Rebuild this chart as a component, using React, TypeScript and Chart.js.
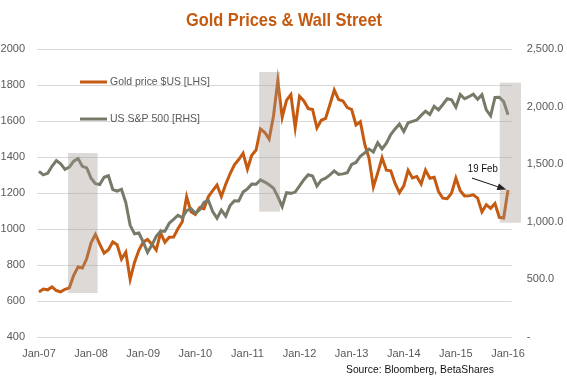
import React, { useEffect, useRef } from "react";
import { Chart, registerables } from "chart.js";

Chart.register(...registerables);

// Month-end observations, Jan-07 .. Dec-15, then 19 Feb 2016
const MONTHS: string[] = (() => {
  const out: string[] = [];
  const m = ["Jan", "Feb", "Mar", "Apr", "May", "Jun", "Jul", "Aug", "Sep", "Oct", "Nov", "Dec"];
  for (let y = 7; y <= 15; y++) for (const mm of m) out.push(`${mm}-${String(y).padStart(2, "0")}`);
  out.push("19-Feb-16");
  return out;
})();

const GOLD: number[] = [
  650, 666, 662, 678, 658, 651, 665, 673, 743, 789, 783, 836,
  923, 970, 916, 866, 885, 928, 913, 833, 871, 720, 814, 882,
  927, 942, 916, 883, 979, 926, 954, 955, 1001, 1040, 1180, 1096,
  1081, 1118, 1113, 1179, 1213, 1244, 1181, 1248, 1307, 1357, 1386, 1421,
  1333, 1410, 1439, 1556, 1536, 1500, 1628, 1824, 1620, 1715, 1747, 1564,
  1737, 1711, 1669, 1664, 1561, 1604, 1614, 1692, 1772, 1719, 1711, 1675,
  1664, 1578, 1596, 1472, 1393, 1234, 1312, 1396, 1327, 1323, 1253, 1202,
  1240, 1326, 1284, 1292, 1250, 1327, 1282, 1287, 1208, 1171, 1168, 1199,
  1283, 1213, 1183, 1184, 1190, 1172, 1095, 1135, 1115, 1142, 1065, 1061,
  1217,
];

const SP500: number[] = [
  1438, 1407, 1421, 1482, 1531, 1503, 1455, 1474, 1527, 1549, 1481, 1468,
  1379, 1331, 1323, 1386, 1400, 1280, 1267, 1283, 1166, 969, 896, 903,
  826, 735, 798, 873, 919, 919, 988, 1021, 1057, 1036, 1096, 1115,
  1074, 1104, 1169, 1187, 1089, 1031, 1102, 1049, 1141, 1183, 1181, 1258,
  1286, 1327, 1326, 1364, 1345, 1321, 1292, 1219, 1131, 1253, 1247, 1258,
  1312, 1366, 1408, 1398, 1310, 1362, 1379, 1407, 1441, 1412, 1416, 1426,
  1498, 1515, 1569, 1598, 1631, 1606, 1686, 1633, 1682, 1757, 1806, 1848,
  1783, 1860, 1872, 1884, 1924, 1960, 1931, 2003, 1972, 2018, 2068, 2059,
  1995, 2105, 2068, 2086, 2107, 2063, 2104, 1972, 1920, 2079, 2080, 2044,
  1930,
];

const X_TICK_LABELS = ["Jan-07", "Jan-08", "Jan-09", "Jan-10", "Jan-11", "Jan-12", "Jan-13", "Jan-14", "Jan-15", "Jan-16"];
const X_TICK_INDEX = [0, 12, 24, 36, 48, 60, 72, 84, 96, 108];

// Highlighted periods (month index range, gold-axis value range)
const SHADE_FROM = [6.7, 50.7, 106.1];
const SHADE_TO = [13.5, 55.5, 111.0];
const SHADE_LOW = [644, 1096, 1035];
const SHADE_HIGH = [1422, 1872, 1813];

const ANNOT_TEXT = "19 Feb";

const TITLE = "Gold Prices & Wall Street";
const SOURCE = "Source: Bloomberg, BetaShares";
const GOLD_LABEL = "Gold price $US [LHS]";
const SP_LABEL = "US S&P 500 [RHS]";

const ORANGE = "#C55A11";
const GREY = "#767B69";
const TEXT = "#595959";
const FONT = "'Liberation Sans', Arial, sans-serif";

// draw text squeezed horizontally to a target width (the original uses a narrow face)
function narrowText(ctx: any, text: string, x: number, y: number, font: string, width: number, align: string) {
  ctx.save();
  ctx.font = font;
  const w = ctx.measureText(text).width;
  const s = width / w;
  ctx.translate(x, y);
  ctx.scale(s, 1);
  ctx.textAlign = align;
  ctx.textBaseline = "middle";
  ctx.fillText(text, 0, 0);
  ctx.restore();
}

const overlay = {
  id: "overlay",
  afterDatasetsDraw(chart: any) {
    const { ctx } = chart;
    const x = chart.scales.x;
    const y = chart.scales.y;
    ctx.save();
    ctx.fillStyle = "rgba(160,150,143,0.36)";
    for (let i = 0; i < SHADE_FROM.length; i++) {
      const x0 = x.getPixelForValue(SHADE_FROM[i]);
      const x1 = x.getPixelForValue(SHADE_TO[i]);
      const y0 = y.getPixelForValue(SHADE_HIGH[i]);
      const y1 = y.getPixelForValue(SHADE_LOW[i]);
      ctx.fillRect(x0, y0, x1 - x0, y1 - y0);
    }
    // annotation arrow to last gold point
    const last = GOLD.length - 1;
    const ex = x.getPixelForValue(last - 0.4);
    const ey = y.getPixelForValue(GOLD[last] + 2);
    const sx = x.getPixelForValue(last - 8.3);
    const sy = y.getPixelForValue(GOLD[last] + 66);
    ctx.strokeStyle = "#111";
    ctx.lineWidth = 1;
    const ang = Math.atan2(ey - sy, ex - sx);
    const hl = 9;
    const bx = ex - hl * Math.cos(ang);
    const by = ey - hl * Math.sin(ang);
    ctx.beginPath();
    ctx.moveTo(sx, sy);
    ctx.lineTo(bx, by);
    ctx.stroke();
    ctx.fillStyle = "#222";
    ctx.beginPath();
    ctx.moveTo(ex, ey);
    ctx.lineTo(bx + 3.5 * Math.sin(ang), by - 3.5 * Math.cos(ang));
    ctx.lineTo(bx - 3.5 * Math.sin(ang), by + 3.5 * Math.cos(ang));
    ctx.closePath();
    ctx.fill();
    ctx.fillStyle = "#111";
    narrowText(ctx, ANNOT_TEXT, x.getPixelForValue(last - 5.8), y.getPixelForValue(GOLD[last] + 116), `11.5px ${FONT}`, 30, "center");
    ctx.restore();
  },
  afterDraw(chart: any) {
    const { ctx, chartArea } = chart;
    ctx.save();
    ctx.fillStyle = ORANGE;
    narrowText(ctx, TITLE, 284, 21, `bold 19px ${FONT}`, 196, "center");
    const items = [
      { label: GOLD_LABEL, color: ORANGE, yy: 82, w: 100 },
      { label: SP_LABEL, color: GREY, yy: 119, w: 90 },
    ];
    for (const it of items) {
      ctx.strokeStyle = it.color;
      ctx.lineWidth = 3;
      ctx.beginPath();
      ctx.moveTo(chartArea.left + 43, it.yy);
      ctx.lineTo(chartArea.left + 70, it.yy);
      ctx.stroke();
      ctx.fillStyle = TEXT;
      narrowText(ctx, it.label, chartArea.left + 73, it.yy, `11.5px ${FONT}`, it.w, "left");
    }
    ctx.fillStyle = "#111";
    narrowText(ctx, SOURCE, 494, 370, `11.5px ${FONT}`, 148, "right");
    ctx.restore();
  },
};

export default function App() {
  const ref = useRef<HTMLCanvasElement>(null);
  useEffect(() => {
    if (!ref.current) return;
    const chart = new Chart(ref.current, {
      type: "line",
      data: {
        datasets: [
          {
            label: GOLD_LABEL,
            data: GOLD.map((v, i) => ({ x: i, y: v })),
            borderColor: ORANGE,
            borderWidth: 3,
            pointRadius: 0,
            tension: 0,
            yAxisID: "y",
            order: 2,
          },
          {
            label: SP_LABEL,
            data: SP500.map((v, i) => ({ x: i, y: v })),
            borderColor: GREY,
            borderWidth: 3,
            pointRadius: 0,
            tension: 0,
            yAxisID: "y1",
            order: 1,
          },
        ],
      },
      options: {
        responsive: false,
        animation: false,
        layout: { padding: { top: 49, left: 0, right: 0, bottom: 0 } },
        plugins: { legend: { display: false }, tooltip: { enabled: false }, title: { display: false } },
        scales: {
          x: {
            type: "linear",
            min: -0.45,
            max: 108.85,
            grid: { display: false, drawTicks: false },
            border: { display: false },
            afterBuildTicks: (s: any) => {
              s.ticks = X_TICK_INDEX.map((v) => ({ value: v }));
            },
            afterFit: (s: any) => {
              s.height = 41;
            },
            ticks: {
              autoSkip: false,
              maxRotation: 0,
              padding: 10,
              color: TEXT,
              font: { family: FONT, size: 11 },
              callback: (v: any) => {
                const k = X_TICK_INDEX.indexOf(Number(v));
                return k >= 0 ? X_TICK_LABELS[k] : "";
              },
            },
          },
          y: {
            position: "left",
            min: 400,
            max: 2000,
            grid: { color: "#D9D9D9", lineWidth: 1, drawTicks: false },
            border: { display: false },
            afterFit: (s: any) => {
              s.width = 37;
            },
            ticks: {
              stepSize: 200,
              padding: 12,
              color: TEXT,
              font: { family: FONT, size: 11 },
              callback: (v: any) => String(v),
            },
          },
          y1: {
            position: "right",
            min: 0,
            max: 2500,
            grid: { display: false, drawTicks: false },
            border: { display: false },
            afterFit: (s: any) => {
              s.width = 55.3;
            },
            ticks: {
              stepSize: 500,
              padding: 15,
              color: TEXT,
              font: { family: FONT, size: 11 },
              callback: (v: any) =>
                Number(v) === 0
                  ? "-"
                  : Number(v).toLocaleString("en-US", { minimumFractionDigits: 1, maximumFractionDigits: 1 }),
            },
          },
        },
      },
      plugins: [overlay],
    });
    return () => chart.destroy();
  }, []);
  return (
    <div style={{ position: "fixed", left: 0, top: 0, width: 567, height: 378, background: "#fff" }}>
      <canvas ref={ref} width={567} height={378} />
    </div>
  );
}
